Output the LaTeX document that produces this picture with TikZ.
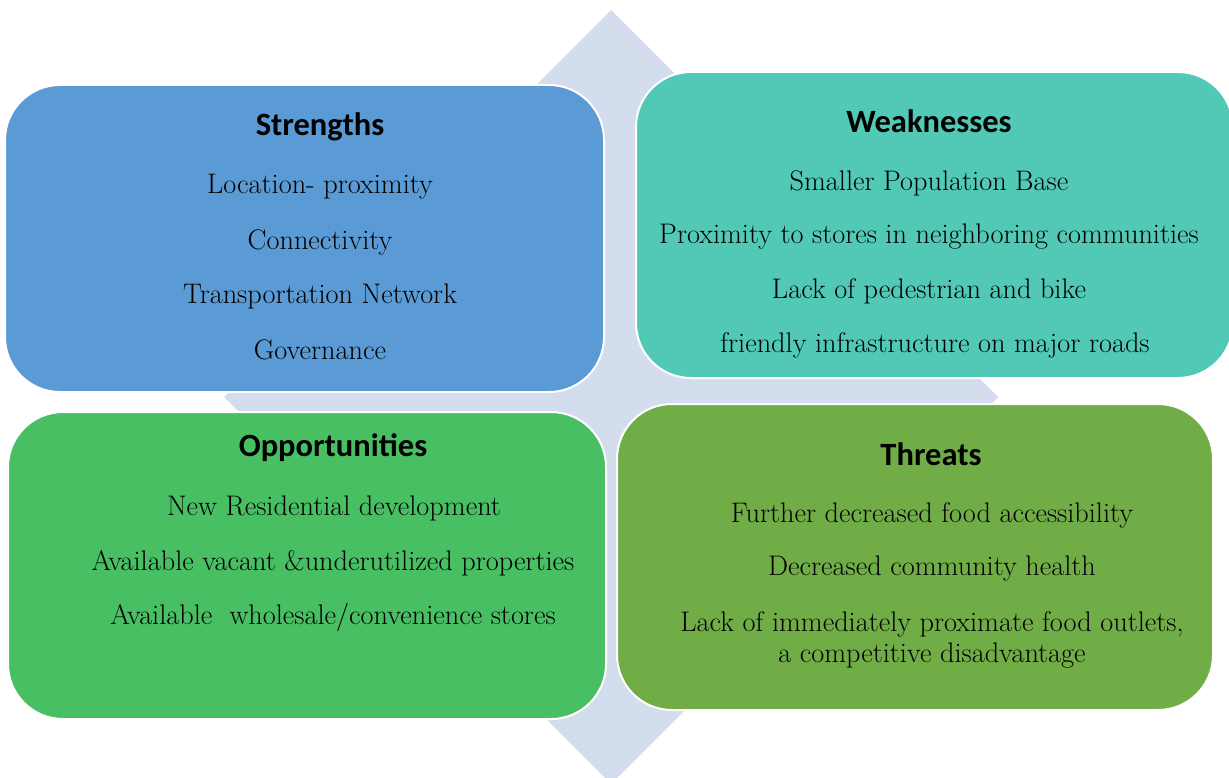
\documentclass[tikz,border=0pt]{standalone}
\usepackage{fontspec}
\newfontfamily\titlefont{Carlito}
\definecolor{sblue}{HTML}{5B9BD5}
\definecolor{wteal}{HTML}{52C9B6}
\definecolor{ogreen}{HTML}{48BF63}
\definecolor{tgreen}{HTML}{70AD47}
\definecolor{diam}{HTML}{D3DDEE}
\begin{document}
\begin{tikzpicture}[x=1pt,y=-1pt,
  box/.style={draw=white,line width=2pt,rounded corners=55pt,inner sep=0pt},
  ttl/.style={font=\titlefont\bfseries\fontsize{32.5}{36}\selectfont,text=black},
  itm/.style={font=\fontsize{28.3}{31}\selectfont,text=black,align=center}]
\useasboundingbox (0,0) rectangle (1229,778);
\clip (0,0) rectangle (1229,778);
\fill[diam] (611,10) -- (998,397) -- (611,784) -- (224,397) -- cycle;
\node[box,fill=sblue,minimum width=599pt,minimum height=307pt] (S) at (304.5,238.5) {};
\node[box,fill=wteal,minimum width=597pt,minimum height=306pt] (W) at (934.5,225) {};
\node[box,fill=ogreen,minimum width=598pt,minimum height=307pt] (O) at (307,565.5) {};
\node[box,fill=tgreen,minimum width=596pt,minimum height=306pt] (T) at (915,557) {};
% Strengths
\node[ttl] (st) at (320,127) {Strengths};
\node[itm] (s1) at (320,187) {Location- proximity};
\node[itm] (s2) at (320,242) {Connectivity};
\node[itm] (s3) at (320,296) {Transportation Network};
\node[itm] (s4) at (320,350) {Governance};
% Weaknesses
\node[ttl] (wt) at (929,121) {Weaknesses};
\node[itm] (w1) at (929,183) {Smaller Population Base};
\node[itm] (w2) at (929,237) {Proximity to stores in neighboring communities};
\node[itm] (w3) at (929,291) {Lack of pedestrian and bike};
\node[itm] (w4) at (935,345) {friendly infrastructure on major roads};
% Opportunities
\node[ttl] (ot) at (333,448) {Opportunities};
\node[itm] (o1) at (334,508) {New Residential development};
\node[itm] (o2) at (333,563) {Available vacant \&underutilized properties};
\node[itm] (o3) at (333,617) {Available\ \ wholesale/convenience stores};
% Threats
\node[ttl] (tt) at (931,454) {Threats};
\node[itm] (t1) at (932,515) {Further decreased food accessibility};
\node[itm] (t2) at (932,569) {Decreased community health};
\node[itm] (t3) at (932,639.5) {Lack of immediately proximate food outlets,\\ a competitive disadvantage};
\end{tikzpicture}
\end{document}
